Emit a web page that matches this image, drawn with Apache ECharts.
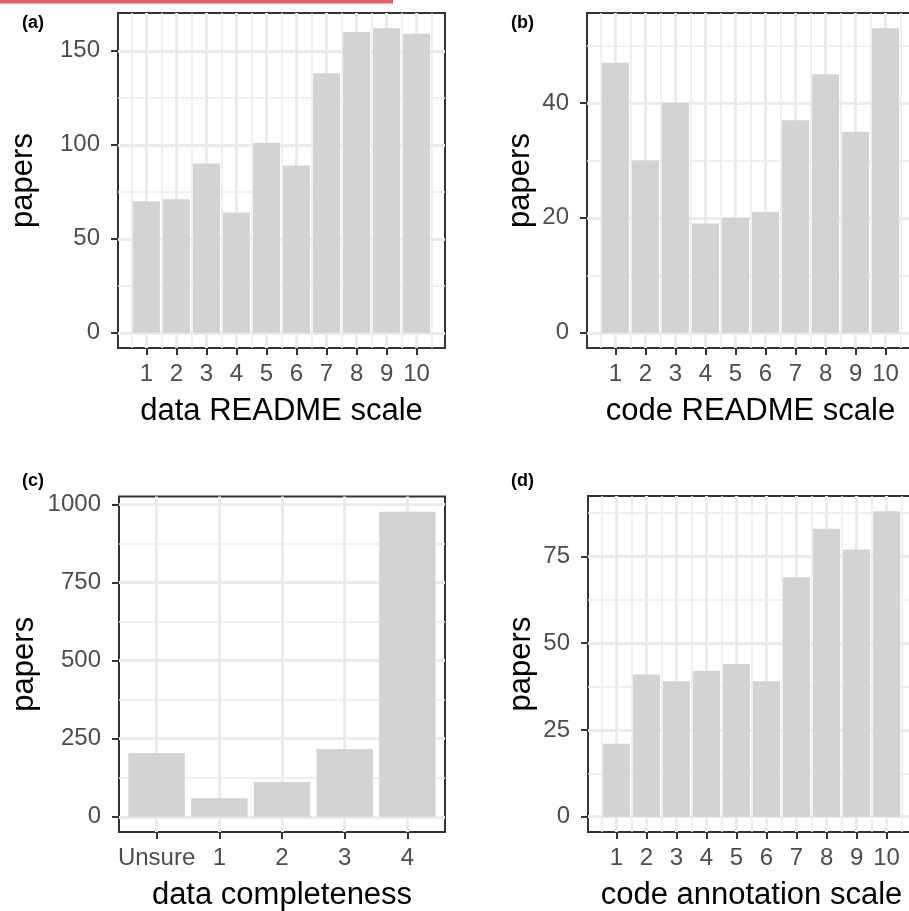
<!DOCTYPE html>
<html><head><meta charset="utf-8">
<script src="https://cdn.jsdelivr.net/npm/echarts@6/dist/echarts.min.js"></script>
<style>html,body{margin:0;padding:0;background:#fff}#c{width:909px;height:911px}</style>
</head><body><div id="c"></div>
<script>
// ---- data ----
const scaleLevels = [1, 2, 3, 4, 5, 6, 7, 8, 9, 10];
const scaleMinor = [0.5, 1.5, 2.5, 3.5, 4.5, 5.5, 6.5, 7.5, 8.5, 9.5, 10.5];

const aValues = [70, 71, 90, 64, 101, 89, 138, 160, 162, 159];
const aYTicks = [0, 50, 100, 150];
const aYMinor = [25, 75, 125];

const bValues = [47, 30, 40, 19, 20, 21, 37, 45, 35, 53];
const bYTicks = [0, 20, 40];
const bYMinor = [10, 30, 50];

const cCategories = ['Unsure', '1', '2', '3', '4'];
const cValues = [204, 59, 111, 217, 976];
const cYTicks = [0, 250, 500, 750, 1000];
const cYMinor = [125, 375, 625, 875];

const dValues = [21, 41, 39, 42, 44, 39, 69, 83, 77, 88];
const dYTicks = [0, 25, 50, 75];
const dYMinor = [12.5, 37.5, 62.5, 87.5];

const xTitles = ['data README scale', 'code README scale', 'data completeness', 'code annotation scale'];
const yTitle = 'papers';
const tags = ['(a)', '(b)', '(c)', '(d)'];

// ---- layout ----
const FONT = '"Liberation Sans", Arial, Helvetica, sans-serif';
const boxes = [
  {left: 118, top: 13, width: 327, height: 335, yGap: 79, tagX: 22, tagY: 23.5},
  {left: 587, top: 13, width: 327, height: 335, yGap: 51, tagX: 511, tagY: 23.5},
  {left: 119, top: 496.5, width: 326, height: 335.5, yGap: 79, tagX: 22, tagY: 481.5},
  {left: 588, top: 496, width: 327, height: 336, yGap: 51, tagX: 511, tagY: 481.5}
];

const panels = [
  {x: scaleLevels, labels: null, vals: aValues, yTicks: aYTicks, yMinor: aYMinor, xMinor: scaleMinor},
  {x: scaleLevels, labels: null, vals: bValues, yTicks: bYTicks, yMinor: bYMinor, xMinor: scaleMinor},
  {x: cCategories.map((_, k) => k + 1), labels: cCategories, vals: cValues, yTicks: cYTicks, yMinor: cYMinor, xMinor: []},
  {x: scaleLevels, labels: null, vals: dValues, yTicks: dYTicks, yMinor: dYMinor, xMinor: scaleMinor}
];

const grids = [], xAxes = [], yAxes = [], series = [], graphics = [];

panels.forEach((p, i) => {
  const b = boxes[i];
  const n = p.x.length;
  let xmin, xmax;
  if (p.labels) { xmin = 0.4; xmax = n + 0.6; }
  else {
    const lo = p.x[0] - 0.45, hi = p.x[n - 1] + 0.45, r = hi - lo;
    xmin = lo - 0.05 * r; xmax = hi + 0.05 * r;
  }
  const vmax = Math.max(...p.vals);
  const ymin = -0.05 * vmax, ymax = 1.05 * vmax;
  const barW = b.width / (xmax - xmin) * 0.9;

  grids.push({
    left: b.left, top: b.top, width: b.width, height: b.height,
    containLabel: false, outerBoundsMode: 'none',
    show: true, borderColor: '#333333', borderWidth: 2, backgroundColor: 'transparent'
  });
  xAxes.push({
    type: 'value', gridIndex: i, min: xmin, max: xmax, position: 'bottom',
    name: xTitles[i], nameLocation: 'middle', nameGap: 48,
    nameTextStyle: {fontSize: 31, color: '#000', fontFamily: FONT},
    axisLine: {show: false, onZero: false},
    axisTick: {show: true, customValues: p.x, length: 7, lineStyle: {color: '#333333', width: 2}},
    axisLabel: {show: true, customValues: p.x, fontSize: 24, color: '#4D4D4D', fontFamily: FONT, margin: 14,
      formatter: p.labels ? (v => p.labels[Math.round(v) - 1]) : (v => String(v))},
    splitLine: {show: true, lineStyle: {color: '#EBEBEB', width: 3}}
  });
  yAxes.push({
    type: 'value', gridIndex: i, min: ymin, max: ymax, position: 'left',
    name: yTitle, nameLocation: 'middle', nameGap: b.yGap, nameRotate: 90,
    nameTextStyle: {fontSize: 31, color: '#000', fontFamily: FONT},
    axisLine: {show: false, onZero: false},
    axisTick: {show: true, customValues: p.yTicks, length: 7, lineStyle: {color: '#333333', width: 2}},
    axisLabel: {show: true, customValues: p.yTicks, fontSize: 24, color: '#4D4D4D', fontFamily: FONT, margin: 18,
      formatter: v => String(v)},
    splitLine: {show: true, lineStyle: {color: '#EBEBEB', width: 3}}
  });
  const minorData = p.yMinor.map(v => ({yAxis: v})).concat(p.xMinor.map(v => ({xAxis: v})));
  series.push({
    type: 'bar', xAxisIndex: i, yAxisIndex: i,
    data: p.x.map((x, k) => [x, p.vals[k]]),
    barWidth: barW,
    itemStyle: {color: '#D3D3D3'},
    silent: true,
    markLine: {
      silent: true, z: 1, animation: false, symbol: ['none', 'none'],
      label: {show: false}, emphasis: {disabled: true},
      lineStyle: {color: '#EBEBEB', width: 1.5, type: 'solid'},
      data: minorData
    }
  });
  graphics.push({
    type: 'text', x: b.tagX, y: b.tagY,
    style: {text: tags[i], fontSize: 18, fontWeight: 'bold', fontFamily: FONT, fill: '#000', align: 'left', verticalAlign: 'middle'}
  });
});

graphics.push({type: 'rect', shape: {x: 0, y: 0, width: 393, height: 3.5}, style: {fill: '#E0606C'}});

const chart = echarts.init(document.getElementById('c'), null, {renderer: 'canvas'});
chart.setOption({
  animation: false,
  backgroundColor: '#ffffff',
  grid: grids, xAxis: xAxes, yAxis: yAxes, series: series, graphic: graphics
});
</script></body></html>
